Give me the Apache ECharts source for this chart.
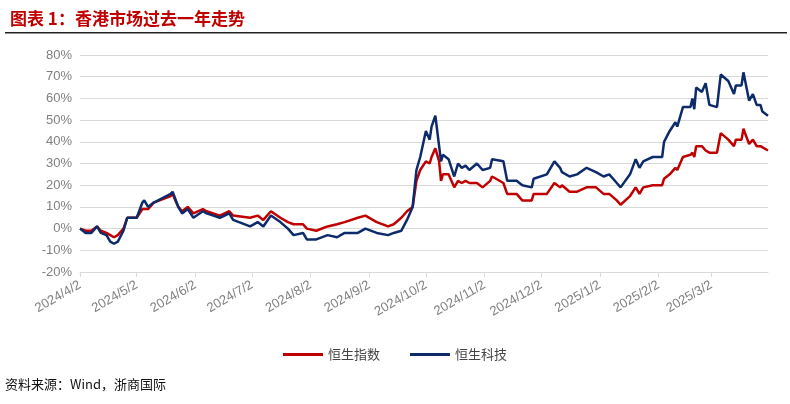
<!DOCTYPE html>
<html>
<head>
    <meta charset="UTF-8">
    <title>香港市场过去一年走势</title>
    <script src="https://cdn.jsdelivr.net/npm/echarts@6/dist/echarts.min.js"></script>
    <style>body{margin:0;background:#fff;}</style>
</head>
<body>
    <div id="chart" style="width:790px; height:404px;"></div>
    <script>
        // anchor dates, values in %
        var anchorDates = ['2024-04-02','2024-04-05','2024-04-08','2024-04-11','2024-04-13','2024-04-16','2024-04-18','2024-04-20','2024-04-22','2024-04-25','2024-04-27','2024-05-02','2024-05-05','2024-05-06','2024-05-08','2024-05-11','2024-05-20','2024-05-21','2024-05-24','2024-05-26','2024-05-29','2024-06-01','2024-06-06','2024-06-08','2024-06-15','2024-06-20','2024-06-22','2024-07-01','2024-07-05','2024-07-08','2024-07-12','2024-07-17','2024-07-21','2024-07-24','2024-07-29','2024-07-31','2024-08-05','2024-08-11','2024-08-16','2024-08-20','2024-08-27','2024-08-31','2024-09-06','2024-09-12','2024-09-15','2024-09-19','2024-09-22','2024-09-25','2024-09-27','2024-09-29','2024-10-02','2024-10-04','2024-10-05','2024-10-07','2024-10-09','2024-10-10','2024-10-11','2024-10-14','2024-10-17','2024-10-19','2024-10-21','2024-10-23','2024-10-25','2024-10-29','2024-11-01','2024-11-05','2024-11-06','2024-11-12','2024-11-14','2024-11-19','2024-11-22','2024-11-27','2024-11-28','2024-12-05','2024-12-09','2024-12-12','2024-12-13','2024-12-17','2024-12-21','2024-12-26','2024-12-31','2025-01-04','2025-01-07','2025-01-11','2025-01-13','2025-01-18','2025-01-21','2025-01-23','2025-01-25','2025-01-30','2025-02-04','2025-02-05','2025-02-08','2025-02-11','2025-02-12','2025-02-15','2025-02-19','2025-02-20','2025-02-21','2025-02-22','2025-02-25','2025-02-27','2025-03-01','2025-03-05','2025-03-07','2025-03-11','2025-03-14','2025-03-15','2025-03-18','2025-03-19','2025-03-22','2025-03-24','2025-03-26','2025-03-28','2025-03-29','2025-04-01'];
        var hsi = [0,-1,-1,1,-1,-2,-3,-4,-3,0,5,5,9,9,9,12,15,16,10,8,10,7,9,8,6,8,6,5,6,4,8,5,3,2,2,0,-1,1,2,3,5,6,3,1,2,5,8,10,22,27,31,30,33,37,31,22,25,25,19,22,21,22,21,21,19,22,24,21,16,16,13,13,16,16,21,19,20,17,17,19,19,16,16,13,11,15,19,16,19,20,20,23,25,28,27,33,34,35,33,38,38,36,35,35,44,41,38,41,41,46,39,41,38,38,38,36];
        var hstech = [0,-2,-2,1,-2,-3,-6,-7,-6,-1,5,5,12,13,10,12,16,17,10,7,9,5,8,7,5,7,4,1,3,1,6,3,0,-3,-2,-5,-5,-3,-4,-2,-2,0,-2,-3,-2,-1,4,10,27,33,45,41,47,52,38,31,34,32,24,30,28,29,27,30,27,28,32,31,22,22,20,19,23,25,31,28,26,24,25,28,26,24,25,21,19,25,32,28,31,33,33,40,45,49,47,56,56,60,55,65,63,67,57,56,71,68,62,66,66,72,59,62,57,57,54,52];
        var yTicks = [-20, -10, 0, 10, 20, 30, 40, 50, 60, 70, 80];

        // daily category axis
        var days = [];
        var start = new Date(2024, 3, 2), end = new Date(2025, 3, 1);
        for (var d = new Date(start); d <= end; d.setDate(d.getDate() + 1)) {
            days.push(d.getFullYear() + '/' + (d.getMonth() + 1) + '/' + d.getDate());
        }
        function toKey(s) {
            var p = s.split('-');
            return +p[0] + '/' + (+p[1]) + '/' + (+p[2]);
        }
        function spread(vals) {
            var m = {};
            anchorDates.forEach(function (s, i) { m[toKey(s)] = vals[i]; });
            return days.map(function (k) { return k in m ? m[k] : null; });
        }
        function isSecond(i, v) { return /\/2$/.test(v); }

        var chart = echarts.init(document.getElementById('chart'), null, {renderer: 'canvas'});
        chart.setOption({
            animation: false,
            title: {
                text: '图表 1：香港市场过去一年走势', left: 5, top: 5,
                textStyle: {color: '#c00000', fontSize: 17, fontWeight: 'bold', fontFamily: 'Noto Sans CJK SC'}
            },
            graphic: [
                {type: 'rect', shape: {x: 5, y: 32, width: 782, height: 1.5}, style: {fill: '#222'}},
                {type: 'text', left: 5, top: 378, style: {text: '资料来源：Wind，浙商国际', fill: '#111', font: '13px "Noto Sans CJK SC"'}}
            ],
            legend: {
                bottom: 38, itemGap: 30, itemWidth: 40, itemHeight: 3,
                icon: 'rect',
                textStyle: {color: '#444', fontSize: 13, fontFamily: 'Noto Sans CJK SC'},
                data: ['恒生指数', '恒生科技']
            },
            grid: {left: 80, right: 22, top: 55, bottom: 132},
            xAxis: [{
                type: 'category', data: days, boundaryGap: false,
                axisLine: {show: false}, axisTick: {show: false},
                axisLabel: {interval: isSecond, rotate: 30, color: '#7f7f7f', fontSize: 13, fontFamily: 'Liberation Sans', margin: 12}
            }, {
                type: 'category', data: days, boundaryGap: false, position: 'bottom',
                axisLine: {onZero: true, lineStyle: {color: '#d9d9d9'}},
                axisTick: {show: true, interval: isSecond, length: 5, lineStyle: {color: '#d9d9d9'}},
                axisLabel: {show: false}
            }],
            yAxis: {
                type: 'value', min: yTicks[0], max: yTicks[yTicks.length - 1], interval: 10,
                axisLabel: {formatter: '{value}%', color: '#7f7f7f', fontSize: 13, fontFamily: 'Liberation Sans'},
                axisLine: {show: false}, axisTick: {show: false},
                splitLine: {lineStyle: {color: '#d9d9d9'}}
            },
            series: [{
                name: '恒生指数', type: 'line', data: spread(hsi), connectNulls: true,
                showSymbol: false, symbol: 'none', color: '#c00000', lineStyle: {width: 2.5}
            }, {
                name: '恒生科技', type: 'line', data: spread(hstech), connectNulls: true,
                showSymbol: false, symbol: 'none', color: '#0d2a6b', lineStyle: {width: 2.5}
            }]
        });
    </script>
</body>
</html>
